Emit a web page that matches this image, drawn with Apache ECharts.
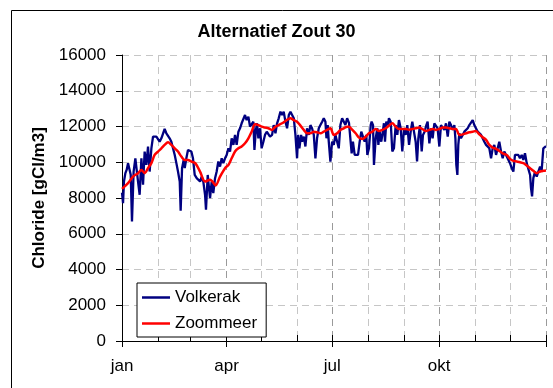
<!DOCTYPE html>
<html>
<head>
<meta charset="utf-8">
<script src="https://cdn.jsdelivr.net/npm/echarts@6/dist/echarts.min.js"></script>
<style>
  html, body { margin: 0; padding: 0; background: #fff; }
  #chart { width: 553px; height: 388px; }
</style>
</head>
<body>
<div id="chart"></div>
<script>
// Day-of-year (0 = 1 jan, 365 = 1 jan next year) and chloride values [gCl/m3]
const volkerakDays = [0,0.9,1.7,2.9,4.0,5.2,6.6,7.5,8.6,10.0,11.5,12.4,13.8,15.2,16.7,18.1,19.5,21.0,22.4,23.8,25.3,26.7,28.1,29.6,31.0,32.4,33.9,35.3,36.7,38.2,39.6,41.0,42.5,43.9,45.4,46.8,48.2,49.7,50.5,51.7,53.1,54.0,55.4,56.8,58.3,59.7,61.1,62.6,64.3,65.7,67.2,68.6,70.0,71.5,72.3,73.8,74.9,75.8,77.2,78.6,80.1,81.5,82.9,84.4,85.8,87.2,88.7,90.1,91.6,93.0,94.4,95.9,97.3,98.7,100.2,101.6,103.0,104.5,105.9,107.3,108.8,110.2,111.6,113.1,114.0,115.1,116.2,117.4,118.8,120.2,121.7,123.1,124.6,126.0,127.4,129.2,130.6,132.1,133.5,134.9,136.4,137.8,139.2,140.7,142.1,143.6,145.0,146.4,147.9,149.3,150.7,151.6,152.7,154.2,155.0,156.5,157.9,159.3,160.8,162.2,163.6,165.1,166.5,167.9,169.4,170.8,172.3,173.7,175.1,176.0,177.1,178.0,179.4,180.9,182.3,183.7,185.2,186.6,188.0,189.5,190.9,192.3,193.8,195.4,197.7,198.8,200.3,201.7,203.2,204.6,206.0,207.5,208.9,210.3,211.2,212.6,214.1,214.9,216.1,216.9,218.4,219.8,220.7,221.8,223.2,224.1,225.5,226.4,227.5,229.0,229.8,231.3,232.7,234.1,235.6,237.0,238.4,239.9,241.3,242.8,244.2,245.6,247.1,248.5,249.9,251.4,252.8,254.0,255.1,256.5,258.0,259.1,260.5,262.0,263.1,264.6,266.0,267.4,268.9,270.3,271.7,273.2,274.6,276.1,277.5,278.9,280.4,281.8,283.2,284.7,286.1,287.0,287.8,288.7,289.5,290.4,291.8,293.3,294.7,296.1,297.6,299.0,300.4,301.9,303.3,304.7,306.2,307.6,309.1,310.5,311.9,313.4,314.8,316.2,317.7,319.1,320.5,322.0,323.4,324.8,326.3,327.7,329.1,331.2,332.6,334.0,335.5,336.9,338.3,339.8,341.2,342.6,344.1,345.5,346.9,348.4,349.8,351.3,352.1,353.0,354.1,355.6,357.0,358.4,359.9,361.3,362.7,364.2,365];
const volkerakValues = [8300,7710,8920,9390,9570,9950,10040,9300,6690,9480,10220,10320,8920,8180,10220,8740,10600,9850,10880,9480,10780,11430,11530,11430,11530,11150,11340,11430,11860,11620,11710,11340,11150,10780,10410,9950,9480,8920,7290,9670,10130,9670,10220,10690,10780,10600,10220,9290,9110,9200,8920,9200,8920,8180,7340,9290,8550,7990,8920,8270,9110,9480,10040,9760,10220,9950,10220,10410,10780,10600,11340,10970,11530,10970,11710,11900,12180,12270,12640,12360,12550,11990,12080,12270,10690,11710,12180,11340,11900,10780,11150,11530,11710,11810,11430,11530,12080,11620,12180,12460,12830,12640,12830,12270,11900,12640,12830,12740,12460,11530,10220,11530,10780,11530,11150,11430,10880,11900,11530,12080,11900,11530,10220,11340,11900,12080,12270,12460,12270,11340,12080,11150,10040,11150,10970,11530,11150,10780,12080,12460,12360,12080,12460,12200,10500,11150,10410,10500,10410,11150,11710,11810,11150,11530,10410,10780,12080,12270,12080,9850,11340,11900,10970,11710,11150,11530,12180,11150,12270,12080,12460,12270,10600,10780,12080,11530,12360,11900,10600,11900,11530,12080,10970,11710,12270,12360,11150,10040,11340,12080,10600,11530,11710,12080,12270,11060,11900,11340,12180,12270,11900,10880,12080,12180,11810,12180,11430,12270,12080,11810,12080,11340,9850,9290,10970,11620,11340,11530,11710,11810,11900,12080,12180,12360,12080,11990,11710,11620,11530,11430,11150,10970,11060,10780,10220,10780,10970,10410,10780,11150,10600,10220,10600,10320,10410,9950,9670,9480,10410,10320,10410,10220,10410,10130,10500,9950,9850,9290,8550,8090,9110,9480,9200,9480,9760,9570,10780,10880,10900];

const zoommeerDays = [0,5.2,9.5,13.8,16.7,19.5,22.4,25.3,28.1,31.0,33.9,36.7,39.6,42.5,45.4,48.2,51.1,54.0,56.8,59.7,63.0,67.2,71.5,75.8,80.1,80.6,84.4,88.7,91.6,94.4,97.3,100.2,103.0,105.9,108.8,111.6,114.5,117.4,120.2,123.1,126.0,128.9,132.1,134.9,137.8,140.7,145.0,147.9,150.7,153.6,156.5,159.3,162.2,165.1,167.9,170.8,173.7,176.6,179.4,182.3,185.2,188.0,190.9,193.8,195.4,198.3,201.1,204.0,206.9,209.8,212.6,215.5,218.4,221.2,224.1,227.0,229.8,232.7,235.6,238.4,241.3,244.2,247.1,249.9,252.8,255.7,258.5,261.4,264.6,267.4,270.3,273.2,276.1,278.9,281.8,284.7,287.5,290.4,293.3,296.1,299.0,301.9,304.7,307.6,310.5,313.4,316.2,319.1,322.0,324.8,327.7,331.2,334.0,336.9,339.8,342.6,345.5,348.4,351.3,354.1,357.0,359.9,362.7,365];
const zoommeerValues = [8510,8830,9200,9390,9570,9390,9670,9950,10410,10600,10780,10970,11120,10970,10780,10600,10320,10130,10130,10040,9950,9480,8920,9020,8740,8700,9200,9670,9850,10220,10600,10780,10880,11060,11340,11710,12120,12080,11990,11940,11900,11810,11990,12080,12180,12310,12460,12360,12270,12050,11810,11620,11620,11710,11680,11620,11710,11810,11900,11530,11620,11810,11900,11990,11990,11810,11620,11380,11300,11430,11620,11710,11860,11750,11810,11900,12050,12180,11990,11860,11860,11860,11820,11860,11900,11940,11860,11750,11810,11860,11810,11860,11940,11940,11900,11860,11860,11530,11560,11620,11680,11710,11750,11560,11400,11250,10970,10820,10750,10630,10500,10400,10190,10080,10040,10000,9950,9820,9670,9520,9390,9480,9520,9540];

// Axis layout: month starts and labelled quarter starts (day-of-year)
const monthStartDays = [0,31,59,90,120,151,181,212,243,273,304,334,365];
const quarterStartDays = [0,90,181,273,365];
const quarterLabels = ['jan','apr','jul','okt'];
const yTicks = { min: 0, max: 16000, step: 2000 };

const DAYS = 365;
const dayCategories = [];
for (let d = 0; d <= DAYS; d++) {
  const qi = quarterStartDays.indexOf(d);
  dayCategories.push(qi >= 0 && qi < quarterLabels.length ? quarterLabels[qi] : String(d));
}
const isMonth = (i) => monthStartDays.indexOf(i) >= 0;
const isQuarter = (i) => quarterStartDays.indexOf(i) >= 0;
const isLabel = (i) => { const q = quarterStartDays.indexOf(i); return q >= 0 && q < quarterLabels.length; };

const pairs = (xs, ys) => xs.map((x, i) => [x, ys[i]]);

const FONT = 'Liberation Sans, Arial, sans-serif';
const chart = echarts.init(document.getElementById('chart'), null, { renderer: 'canvas' });

chart.setOption({
  animation: false,
  backgroundColor: '#ffffff',
  title: {
    text: 'Alternatief Zout 30',
    left: 'center',
    top: 18,
    textStyle: { fontFamily: FONT, fontSize: 18, fontWeight: 'bold', color: '#000' }
  },
  graphic: [{
    type: 'rect',
    shape: { x: 11.5, y: 10.5, width: 600, height: 500 },
    style: { fill: null, stroke: '#000', lineWidth: 1 },
    silent: true,
    z: 100
  }],
  legend: {
    orient: 'vertical',
    left: 137,
    top: 283,
    data: [
      { name: 'Volkerak', icon: 'rect', itemStyle: { color: '#000080' } },
      { name: 'Zoommeer', icon: 'rect', itemStyle: { color: '#ff0000' } }
    ],
    itemWidth: 28,
    itemHeight: 2.5,
    itemGap: 7,
    padding: [5, 9, 4, 5],
    backgroundColor: '#fff',
    borderColor: '#000',
    borderWidth: 1,
    textStyle: { fontFamily: FONT, fontSize: 17, color: '#000', lineHeight: 19 }
  },
  grid: { left: 122, right: 7, top: 55, bottom: 47, containLabel: false },
  xAxis: [
    {
      // monthly grid lines and small inward ticks
      type: 'category',
      data: dayCategories,
      boundaryGap: false,
      position: 'bottom',
      axisLine: { show: true, lineStyle: { color: '#000', width: 1 } },
      axisTick: { show: true, inside: true, length: 6, interval: (i) => isMonth(i), lineStyle: { color: '#000' } },
      axisLabel: { show: false },
      splitLine: { show: true, interval: (i) => isMonth(i) && !isQuarter(i), lineStyle: { color: '#c6c6c6', type: [7, 5], width: 1 } }
    },
    {
      // quarter grid lines, outward ticks and month names
      type: 'category',
      data: dayCategories,
      boundaryGap: false,
      position: 'bottom',
      axisLine: { show: false },
      axisTick: { show: true, inside: false, length: 6, interval: (i) => isQuarter(i), lineStyle: { color: '#000' } },
      axisLabel: { show: true, interval: (i) => isLabel(i), margin: 17, fontFamily: FONT, fontSize: 17, color: '#000' },
      splitLine: { show: true, interval: (i) => isQuarter(i) && i > 0, lineStyle: { color: '#9a9a9a', type: [7, 5], width: 1 } }
    },
    {
      // numeric day axis used by the series
      type: 'value',
      min: 0,
      max: DAYS,
      show: false,
      splitLine: { show: false }
    }
  ],
  yAxis: {
    type: 'value',
    min: yTicks.min,
    max: yTicks.max,
    interval: yTicks.step,
    name: 'Chloride [gCl/m3]',
    nameLocation: 'middle',
    nameGap: 72,
    nameTextStyle: { fontFamily: FONT, fontSize: 17, fontWeight: 'bold', color: '#000' },
    axisLine: { show: true, lineStyle: { color: '#000', width: 1 } },
    axisTick: { show: true, length: 6, lineStyle: { color: '#000' } },
    axisLabel: { margin: 16, fontFamily: FONT, fontSize: 17, color: '#000', formatter: (v) => String(v) },
    splitLine: { show: true, lineStyle: { color: '#c6c6c6', type: [7, 5], width: 1 } }
  },
  series: [
    {
      name: 'Volkerak',
      type: 'line',
      xAxisIndex: 2,
      data: pairs(volkerakDays, volkerakValues),
      symbol: 'none',
      lineStyle: { color: '#000080', width: 2.3 },
      itemStyle: { color: '#000080' },
      z: 3
    },
    {
      name: 'Zoommeer',
      type: 'line',
      xAxisIndex: 2,
      data: pairs(zoommeerDays, zoommeerValues),
      symbol: 'none',
      smooth: 0.3,
      lineStyle: { color: '#ff0000', width: 2.5 },
      itemStyle: { color: '#ff0000' },
      z: 4
    }
  ]
});
</script>
</body>
</html>
